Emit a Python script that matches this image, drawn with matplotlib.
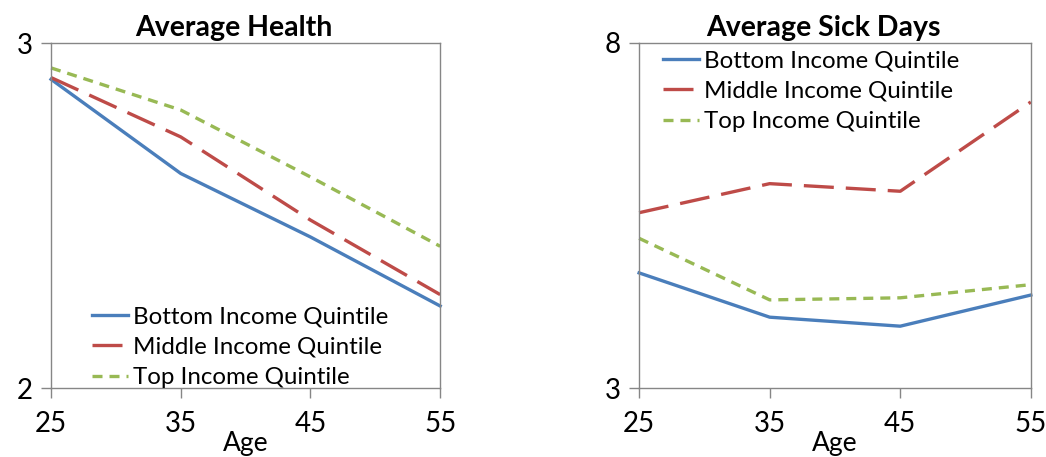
import matplotlib
matplotlib.use("Agg")
import matplotlib.pyplot as plt

plt.rcParams['font.family'] = ['Lato', 'DejaVu Sans']

ages = [25, 35, 45, 55]
series_names = ['Bottom Income Quintile', 'Middle Income Quintile', 'Top Income Quintile']

health_bottom = [2.896, 2.623, 2.439, 2.239]
health_middle = [2.901, 2.729, 2.488, 2.272]
health_top = [2.929, 2.807, 2.613, 2.412]

sick_bottom = [4.67, 4.03, 3.90, 4.35]
sick_middle = [5.54, 5.96, 5.85, 7.14]
sick_top = [5.17, 4.28, 4.31, 4.50]

colors = ['#4A7EBB', '#BE4B48', '#98B954']
styles = ['-', (0, (9, 3.6)), (0, (3, 2.1))]

fig = plt.figure(figsize=(10.46, 4.57), dpi=100)
ax1 = fig.add_axes([0.0488, 0.150, 0.372, 0.755])
ax2 = fig.add_axes([0.611, 0.150, 0.3745, 0.757])


def draw(ax, data, title, ylim, legend_loc):
    for vals, c, ls, name in zip(data, colors, styles, series_names):
        ax.plot(ages, vals, color=c, linestyle=ls, linewidth=2.4, label=name,
                clip_on=False)
    ax.set_xlim(25, 55)
    ax.set_ylim(*ylim)
    ax.set_xticks(ages)
    ax.set_yticks(list(ylim))
    ax.tick_params(axis='both', labelsize=20, direction='out', color='#868686',
                   length=7, width=1)
    ax.tick_params(axis='x', pad=9)
    ax.tick_params(axis='y', pad=6)
    for sp in ax.spines.values():
        sp.set_color('#868686')
        sp.set_linewidth(1)
    ax.set_title(title, fontsize=20.5, fontweight='bold', pad=5, x=0.47)
    ax.set_xlabel('Age', fontsize=19, labelpad=-4)
    leg = ax.legend(loc=legend_loc, frameon=False, fontsize=17.4,
                    handlelength=1.5, handletextpad=0.2, labelspacing=0.39,
                    borderaxespad=0.3)
    return leg


draw(ax1, [health_bottom, health_middle, health_top], 'Average Health', (2, 3),
     'lower left')
ax1.get_legend().set_bbox_to_anchor((0.062, -0.048))
draw(ax2, [sick_bottom, sick_middle, sick_top], 'Average Sick Days', (3, 8),
     'upper left')
ax2.get_legend().set_bbox_to_anchor((0.017, 1.026))

fig.savefig('out.png', dpi=100)
